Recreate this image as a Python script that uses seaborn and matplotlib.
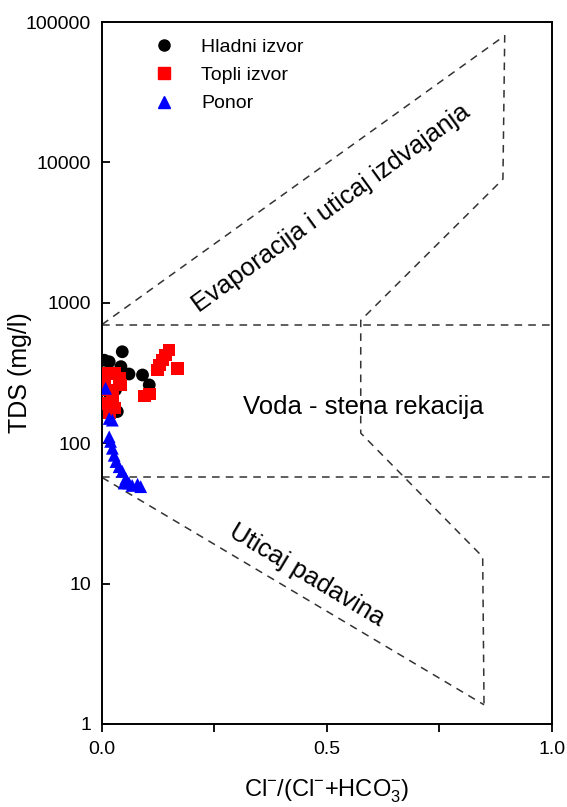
import numpy as np
import pandas as pd
import matplotlib
matplotlib.use("Agg")
import matplotlib.pyplot as plt
import seaborn as sns

# podaci ocitani sa grafika
hladni_x = [0.045, 0.016, 0.042, 0.060, 0.090, 0.105, 0.034, 0.005, 0.016, 0.030]
hladni_y = [448, 380, 351, 311, 306, 260, 168, 390, 203, 240]

topli_x = [0.149, 0.142, 0.134, 0.127, 0.123, 0.168, 0.094, 0.105,
           0.012, 0.027, 0.038, 0.042, 0.012, 0.023, 0.008, 0.027, 0.016, 0.005]
topli_y = [461, 425, 391, 360, 332, 342, 217, 224,
           315, 315, 291, 260, 239, 214, 193, 178, 164, 280]

ponor_x = [0.008, 0.016, 0.023, 0.016, 0.019, 0.023, 0.027, 0.031,
           0.038, 0.045, 0.053, 0.060, 0.067, 0.079, 0.086, 0.049]
ponor_y = [246, 150, 146, 111, 103, 92, 82, 74,
           68, 63, 56, 52, 50, 51, 49, 52]

grupe = ["Hladni izvor", "Topli izvor", "Ponor"]
boje = {"Hladni izvor": "black", "Topli izvor": "#ff0000", "Ponor": "#0000ff"}
markeri = {"Hladni izvor": "o", "Topli izvor": "s", "Ponor": "^"}

# granice polja (Gibbs dijagram)
gornja_x = [0.0, 0.895, 0.891, 0.575, 0.575, 0.846, 0.849]
gornja_y = [700, 80000, 7600, 750, 118, 15.5, 1.37]
donja_x = [0.0, 0.849]
donja_y = [57, 1.37]
horizontale = [700, 57]

natpisi = ["Evaporacija i uticaj izdvajanja", "Voda - stena rekacija", "Uticaj padavina"]
natpisi_x = [0.51, 0.58, 0.455]
natpisi_y = [4700, 181, 11.5]
natpisi_rot = [36, 0, -31]

df = pd.DataFrame({
    "x": hladni_x + topli_x + ponor_x,
    "y": hladni_y + topli_y + ponor_y,
    "grupa": [grupe[0]] * len(hladni_x) + [grupe[1]] * len(topli_x) + [grupe[2]] * len(ponor_x),
})

sns.set_style("white")
plt.rcParams["font.family"] = ["Liberation Sans", "DejaVu Sans"]
plt.rcParams["mathtext.fontset"] = "custom"
plt.rcParams["mathtext.rm"] = "Liberation Sans"
plt.rcParams["mathtext.it"] = "Liberation Sans"
plt.rcParams["text.color"] = "black"
plt.rcParams["axes.labelcolor"] = "black"
plt.rcParams["xtick.color"] = "black"
plt.rcParams["ytick.color"] = "black"

fig = plt.figure(figsize=(5.67, 8.07), dpi=100)
ax = fig.add_axes([0.1799, 0.1029, 0.7936, 0.8698])

linija = dict(color="#333333", lw=1.1, ls=(0, (5, 4)))
ax.plot(gornja_x, gornja_y, **linija)
ax.plot(donja_x, donja_y, **linija)
for h in horizontale:
    ax.plot([0, 1], [h, h], **linija)

sns.scatterplot(data=df, x="x", y="y", hue="grupa", style="grupa", hue_order=grupe,
                style_order=grupe, palette=boje, markers=markeri, s=85,
                edgecolor="none", ax=ax, legend=False, zorder=3)

ax.set_yscale("log")
ax.set_xlim(0, 1)
ax.set_ylim(1, 100000)
ax.set_xticks([0, 0.5, 1.0])
ax.set_xticklabels(["0.0", "0.5", "1.0"])
ax.set_xticks([0.25, 0.75], minor=True)
ax.set_yticks([1, 10, 100, 1000, 10000, 100000])
ax.set_yticklabels(["1", "10", "100", "1000", "10000", "100000"])
ax.yaxis.set_minor_locator(matplotlib.ticker.NullLocator())

ax.tick_params(axis="x", which="both", direction="out", length=6, width=1.3,
               labelsize=14, pad=6, bottom=True)
ax.tick_params(axis="y", which="major", direction="in", length=6, width=1.3,
               labelsize=14, pad=8, left=True)
for s in ax.spines.values():
    s.set_linewidth(1.4)
    s.set_color("black")

ax.set_xlabel(r"Cl$^{-}$/(Cl$^{-}$+HCO$_{3}^{-}$)", fontsize=17, labelpad=14)
ax.set_ylabel("TDS (mg/l)", fontsize=18)
ax.yaxis.set_label_coords(-0.155, 0.5)

for t, x, y, r in zip(natpisi, natpisi_x, natpisi_y, natpisi_rot):
    ax.text(x, y, t, rotation=r, rotation_mode="anchor", ha="center", va="center",
            fontsize=18.5)

rucke = [plt.Line2D([], [], ls="", marker=markeri[g], color=boje[g], markersize=8)
         for g in grupe]
ax.legend(rucke, grupe, loc="upper left", bbox_to_anchor=(0.095, 0.977), frameon=False,
          fontsize=14, borderaxespad=0, borderpad=0, handletextpad=0.9,
          labelspacing=0.55, handlelength=2.0)

fig.savefig("out.png", dpi=100)
